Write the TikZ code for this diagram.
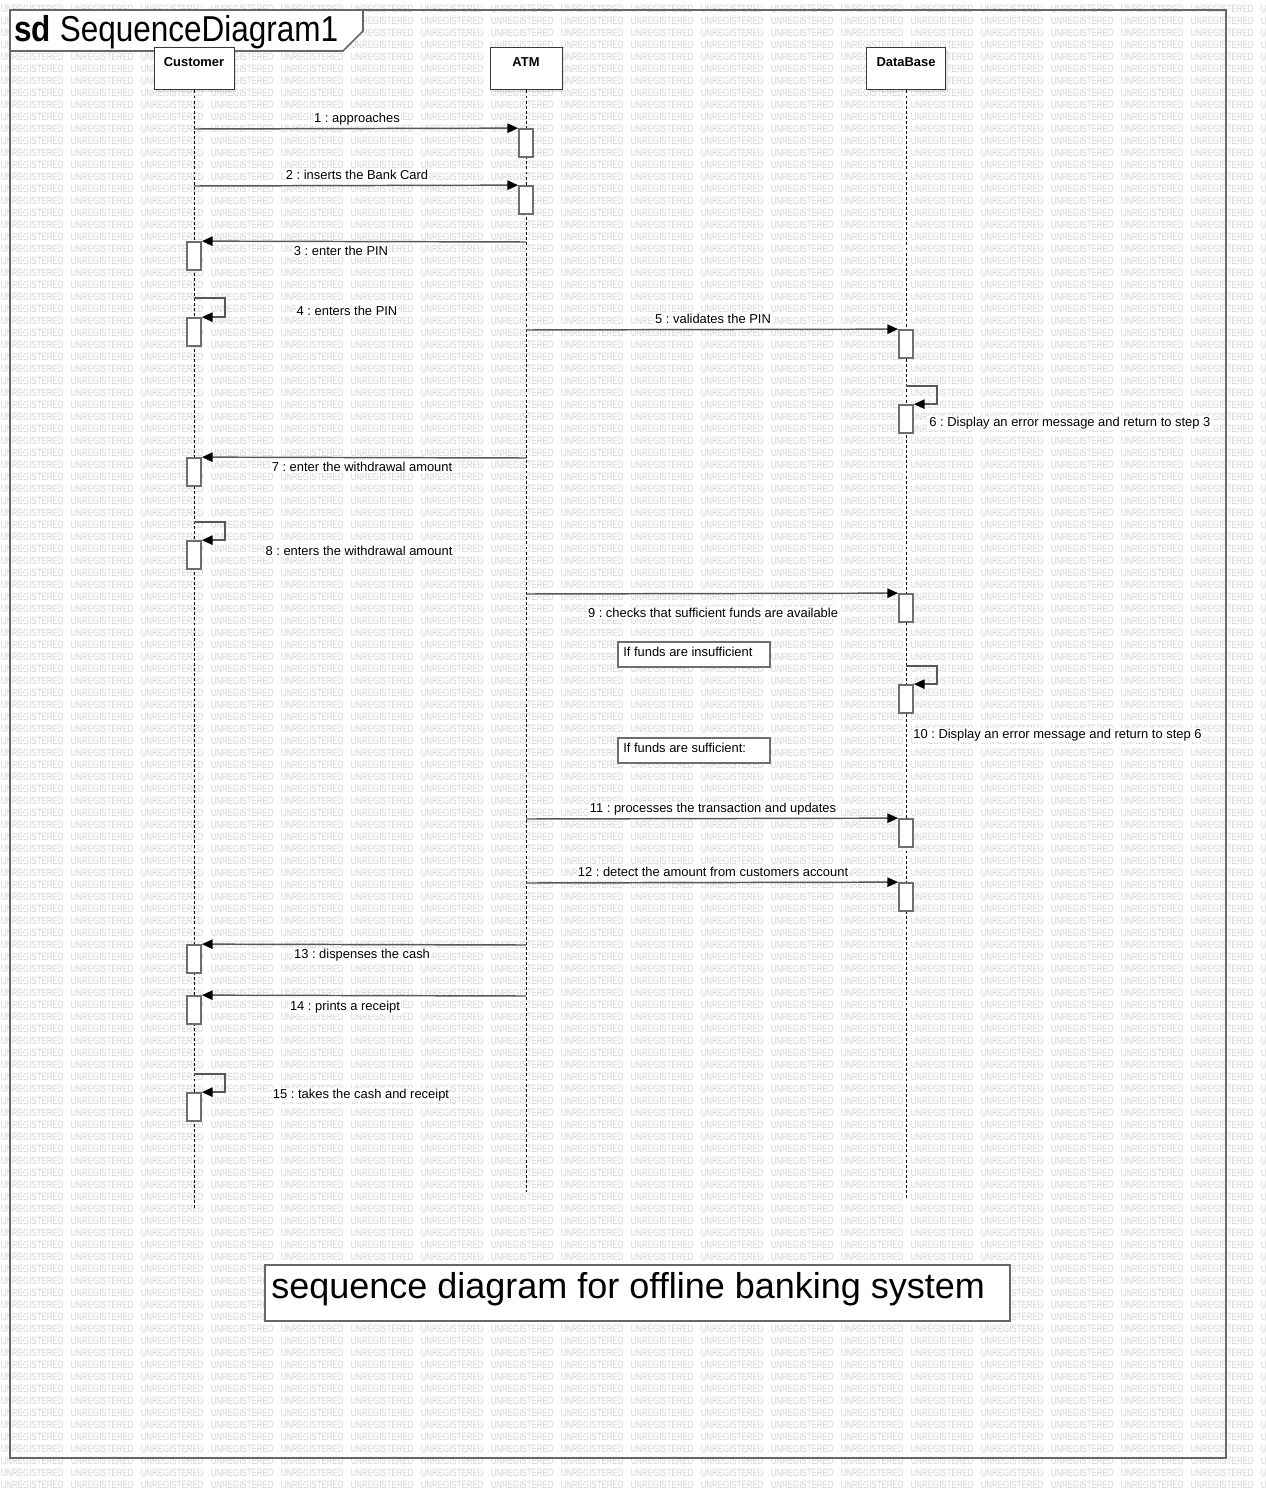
\documentclass[tikz,border=0pt]{standalone}
\usepackage{fontspec}
\setmainfont{Liberation Sans}
\usepackage{graphicx}
\usetikzlibrary{arrows.meta,shadows}
\frenchspacing
\definecolor{wmgray}{HTML}{D4D4D4}
\definecolor{framegray}{HTML}{676767}
\definecolor{msggray}{HTML}{585858}
\definecolor{actgray}{HTML}{6E6E6E}
\definecolor{headgray}{HTML}{3A3A3A}
\newcommand{\wmw}{\makebox[52.5pt][l]{\scalebox{0.75}[1]{UNREGISTERED}}}
\newcommand{\wmrow}{\wmw\wmw\wmw\wmw\wmw\wmw\wmw\wmw\wmw\wmw\wmw\wmw\wmw\wmw\wmw\wmw\wmw\wmw\wmw}
\begin{document}
\begin{tikzpicture}[x=0.75pt,y=-0.75pt,
  wmtxt/.style={text=wmgray, inner sep=0pt, font=\fontsize{7.9}{8}\selectfont, anchor=west},
  headbox/.style={draw=headgray, fill=white, line width=0.75pt, minimum height=31.5pt, inner sep=0pt,
     drop shadow={shadow xshift=1.5pt, shadow yshift=-1.5pt, opacity=0.2}},
  headtxt/.style={inner sep=0pt, font=\fontsize{9.7}{11}\selectfont\bfseries},
  life/.style={draw=black, line width=0.75pt, dash pattern=on 2.2pt off 1.6pt},
  act/.style={draw=actgray, fill=white, line width=1.3pt, minimum width=10.5pt, minimum height=21pt, inner sep=0pt},
  msg/.style={draw=msggray, line width=1.1pt, -{Triangle[length=8pt,width=7pt,color=black]}},
  lbl/.style={fill=white, inner sep=0.8pt, font=\fontsize{9.7}{11}\selectfont},
  notebox/.style={draw=actgray, fill=white, line width=1.3pt, inner sep=0pt, minimum width=114pt, minimum height=18.75pt},
  notetxt/.style={inner sep=0pt, anchor=west, font=\fontsize{9.7}{11}\selectfont}
]
\useasboundingbox[fill=white] (0,0) rectangle (1266,1498);

% watermark
\begin{scope}
\clip (0,0) rectangle (1266,1498);
\foreach \k in {0,...,123}{
  \node[wmtxt] (wm\k) at (0.5,{8.5+12*\k}) {\wmrow};
}
\end{scope}

% frame
\draw[framegray, line width=1.5pt] (10,10) rectangle (1226,1458);
\draw[framegray, line width=1.2pt, fill=white] (10,10) -- (363,10) -- (363,31) -- (343,51) -- (10,51) -- cycle;
\node[anchor=base west, inner sep=0pt] (title) at (14,42)
  {\scalebox{0.875}[1]{\fontsize{27}{30}\selectfont\bfseries sd \mdseries SequenceDiagram1}};

% lifeline heads
\node[headbox, minimum width=60pt] (customer) at (194,69) {};
\node[headtxt] (customerlbl) at (194,62) {Customer};
\node[headbox, minimum width=54pt] (atm) at (526,69) {};
\node[headtxt] (atmlbl) at (526,62) {ATM};
\node[headbox, minimum width=59.25pt] (db) at (906,69) {};
\node[headtxt] (dblbl) at (906,62) {DataBase};

% lifelines
\coordinate (cend) at (194,1210);
\coordinate (aend) at (526,1192);
\coordinate (dend) at (906,1200);
\draw[life] (customer.south) -- (cend);
\draw[life] (atm.south) -- (aend);
\draw[life] (db.south) -- (dend);

% notes and caption
\node[notebox] (note1) at (694,654.5) {};
\node[notetxt] (note1txt) at (623,652) {If funds are insufficient};
\node[notebox] (note2) at (694,750.5) {};
\node[notetxt] (note2txt) at (623,748) {If funds are sufficient:};
\node[draw=framegray, line width=1.5pt, fill=white, minimum width=558.75pt, minimum height=42pt, inner sep=0pt] (capbox) at (637.5,1293) {};
\node[anchor=base west, inner sep=0pt, font=\fontsize{27}{30}\selectfont] (captxt) at (271,1298) {sequence diagram for offline banking system};

% activation boxes
\node[act] (a1) at (526,143) {};
\node[act] (a2) at (526,200) {};
\node[act] (a3) at (194,256) {};
\node[act] (a4) at (194,332) {};
\node[act] (a5) at (906,344) {};
\node[act] (a6) at (906,419) {};
\node[act] (a7) at (194,472) {};
\node[act] (a8) at (194,555) {};
\node[act] (a9) at (906,608) {};
\node[act] (a10) at (906,699) {};
\node[act] (a11) at (906,833) {};
\node[act] (a12) at (906,897) {};
\node[act] (a13) at (194,959) {};
\node[act] (a14) at (194,1010) {};
\node[act] (a15) at (194,1107) {};

% message start points
\coordinate (m1) at (194,129);
\coordinate (m2) at (194,186);
\coordinate (m3) at (526,242);
\coordinate (m4) at (194,298);
\coordinate (m5) at (526,330);
\coordinate (m6) at (906,386);
\coordinate (m7) at (526,458);
\coordinate (m8) at (194,522);
\coordinate (m9) at (526,594);
\coordinate (m10) at (906,666);
\coordinate (m11) at (526,819);
\coordinate (m12) at (526,883);
\coordinate (m13) at (526,945);
\coordinate (m14) at (526,996);
\coordinate (m15) at (194,1074);

% messages
\draw[msg] (m1) -- (a1.north west);
\draw[msg] (m2) -- (a2.north west);
\draw[msg] (m3) -- (a3.north east);
\draw[msg] (m4) -- ++(31,0) |- (a4.north east);
\draw[msg] (m5) -- (a5.north west);
\draw[msg] (m6) -- ++(31,0) |- (a6.north east);
\draw[msg] (m7) -- (a7.north east);
\draw[msg] (m8) -- ++(31,0) |- (a8.north east);
\draw[msg] (m9) -- (a9.north west);
\draw[msg] (m10) -- ++(31,0) |- (a10.north east);
\draw[msg] (m11) -- (a11.north west);
\draw[msg] (m12) -- (a12.north west);
\draw[msg] (m13) -- (a13.north east);
\draw[msg] (m14) -- (a14.north east);
\draw[msg] (m15) -- ++(31,0) |- (a15.north east);

% labels
\node[lbl] (l1) at (357,119) {1 : approaches};
\node[lbl] (l2) at (357,175) {2 : inserts the Bank Card};
\node[lbl] (l3) at (341,251) {3 : enter the PIN};
\node[lbl] (l4) at (347,311) {4 : enters the PIN};
\node[lbl] (l5) at (713,319) {5 : validates the PIN};
\node[lbl, anchor=west] (l6) at (928,423) {6 : Display an error message and return to step 3};
\node[lbl] (l7) at (362,467) {7 : enter the withdrawal amount};
\node[lbl] (l8) at (359,551) {8 : enters the withdrawal amount};
\node[lbl] (l9) at (713,613) {9 : checks that sufficient funds are available};
\node[lbl, anchor=west] (l10) at (912,735) {10 : Display an error message and return to step 6};
\node[lbl] (l11) at (713,809) {11 : processes the transaction and updates};
\node[lbl] (l12) at (713,872) {12 : detect the amount from customers account};
\node[lbl] (l13) at (362,955) {13 : dispenses the cash};
\node[lbl] (l14) at (345,1007) {14 : prints a receipt};
\node[lbl] (l15) at (361,1095) {15 : takes the cash and receipt};
\end{tikzpicture}
\end{document}
